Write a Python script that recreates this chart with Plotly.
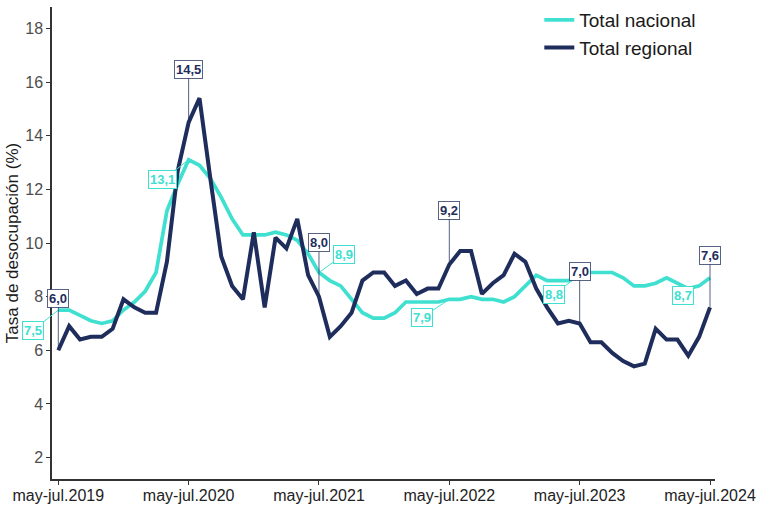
import plotly.graph_objects as go

# --- data ---------------------------------------------------------------
months = ["ene-mar", "feb-abr", "mar-may", "abr-jun", "may-jul", "jun-ago",
          "jul-sep", "ago-oct", "sep-nov", "oct-dic", "nov-ene", "dic-feb"]
periods = []
for year in range(2019, 2025):
    for m in months:
        periods.append(f"{m}.{year}")
start = periods.index("may-jul.2019")
end = periods.index("may-jul.2024")
periods = periods[start:end + 1]

total_nacional = [7.5, 7.5, 7.3, 7.1, 7.0, 7.1, 7.5, 7.8, 8.2, 8.9,
                  11.2, 12.2, 13.1, 12.9, 12.4, 11.7, 10.9, 10.3, 10.3, 10.3,
                  10.4, 10.3, 10.1, 9.6, 8.9, 8.6, 8.4, 7.9, 7.4, 7.2,
                  7.2, 7.4, 7.8, 7.8, 7.8, 7.8, 7.9, 7.9, 8.0, 7.9,
                  7.9, 7.8, 8.0, 8.4, 8.8, 8.6, 8.6, 8.6, 8.8, 8.9,
                  8.9, 8.9, 8.7, 8.4, 8.4, 8.5, 8.7, 8.5, 8.3, 8.4,
                  8.7]
total_regional = [6.0, 6.9, 6.4, 6.5, 6.5, 6.8, 7.9, 7.6, 7.4, 7.4,
                  9.3, 12.7, 14.5, 15.4, 12.4, 9.5, 8.4, 7.9, 10.4, 7.6,
                  10.2, 9.8, 10.9, 8.8, 8.0, 6.5, 6.9, 7.4, 8.6, 8.9,
                  8.9, 8.4, 8.6, 8.1, 8.3, 8.3, 9.2, 9.7, 9.7, 8.1,
                  8.5, 8.8, 9.6, 9.3, 8.3, 7.6, 7.0, 7.1, 7.0, 6.3,
                  6.3, 5.9, 5.6, 5.4, 5.5, 6.8, 6.4, 6.4, 5.8, 6.5,
                  7.6]
tick_labels = ["may-jul.2019", "may-jul.2020", "may-jul.2021",
               "may-jul.2022", "may-jul.2023", "may-jul.2024"]
y_ticks = [2, 4, 6, 8, 10, 12, 14, 16, 18]

# --- style --------------------------------------------------------------
TEAL = "#40E0D0"
NAVY = "#1F2D5C"
FONT = "Arial, Liberation Sans, sans-serif"

fig = go.Figure()
fig.add_trace(go.Scatter(x=periods, y=total_nacional, mode="lines",
                         name="Total nacional",
                         line=dict(color=TEAL, width=3.7)))
fig.add_trace(go.Scatter(x=periods, y=total_regional, mode="lines",
                         name="Total regional",
                         line=dict(color=NAVY, width=4)))


def fmt(v):
    return f"{v:.1f}".replace(".", ",")


# label annotations at each may-jul
reg_offsets = [(0, -52), (0, -53), (0, -54), (0, -54), (0, -52), (0, -52)]
nac_offsets = [(-25, 20), (-26, 20), (25, -18), (-27, 18), (-26, 19), (-27, 18)]
for k, lab in enumerate(tick_labels):
    i = periods.index(lab)
    ax, ay = nac_offsets[k]
    fig.add_annotation(x=lab, y=total_nacional[i], text=f"<b>{fmt(total_nacional[i])}</b>",
                       showarrow=True, arrowhead=0, arrowwidth=1, arrowcolor=TEAL,
                       ax=ax, ay=ay, standoff=0,
                       font=dict(family=FONT, size=13, color=TEAL),
                       bgcolor="white", bordercolor=TEAL, borderwidth=1, borderpad=1)
    ax, ay = reg_offsets[k]
    fig.add_annotation(x=lab, y=total_regional[i], text=f"<b>{fmt(total_regional[i])}</b>",
                       showarrow=True, arrowhead=0, arrowwidth=1,
                       arrowcolor="rgba(31,45,92,0.75)",
                       ax=ax, ay=ay, standoff=0,
                       font=dict(family=FONT, size=13, color=NAVY),
                       bgcolor="white", bordercolor="rgba(31,45,92,0.75)",
                       borderwidth=1, borderpad=1)

fig.update_layout(
    width=757, height=506,
    margin=dict(l=52, r=42, t=7, b=27, autoexpand=False),
    plot_bgcolor="white", paper_bgcolor="white",
    font=dict(family=FONT, color="#333333"),
    showlegend=True,
    legend=dict(x=0.735, y=0.998, xanchor="left", yanchor="top", yref="container",
                font=dict(size=19, color="#1a1a1a"),
                bgcolor="rgba(0,0,0,0)", itemwidth=30, tracegroupgap=0),
)
fig.update_xaxes(
    type="category", range=[-0.58, 60.46],
    tickmode="array", tickvals=tick_labels, ticktext=tick_labels,
    showline=True, linecolor="#333333", linewidth=1.5,
    ticks="outside", ticklen=4, tickcolor="#333333",
    tickfont=dict(size=16, color="#222222"), ticklabelstandoff=-3,
    showgrid=False, zeroline=False, automargin=False,
)
fig.update_yaxes(
    range=[1.2, 18.8], tickmode="array", tickvals=y_ticks,
    showline=True, linecolor="#333333", linewidth=1.5,
    ticks="outside", ticklen=4, tickcolor="#333333",
    tickfont=dict(size=16, color="#4D4D4D"),
    title=dict(text="Tasa de desocupación (%)", font=dict(size=17, color="#1a1a1a"), standoff=2),
    showgrid=False, zeroline=False, automargin=False,
)

fig.write_html("out.html", config={"displayModeBar": False},
               post_script="document.body.style.margin='0';document.body.style.padding='0';")
